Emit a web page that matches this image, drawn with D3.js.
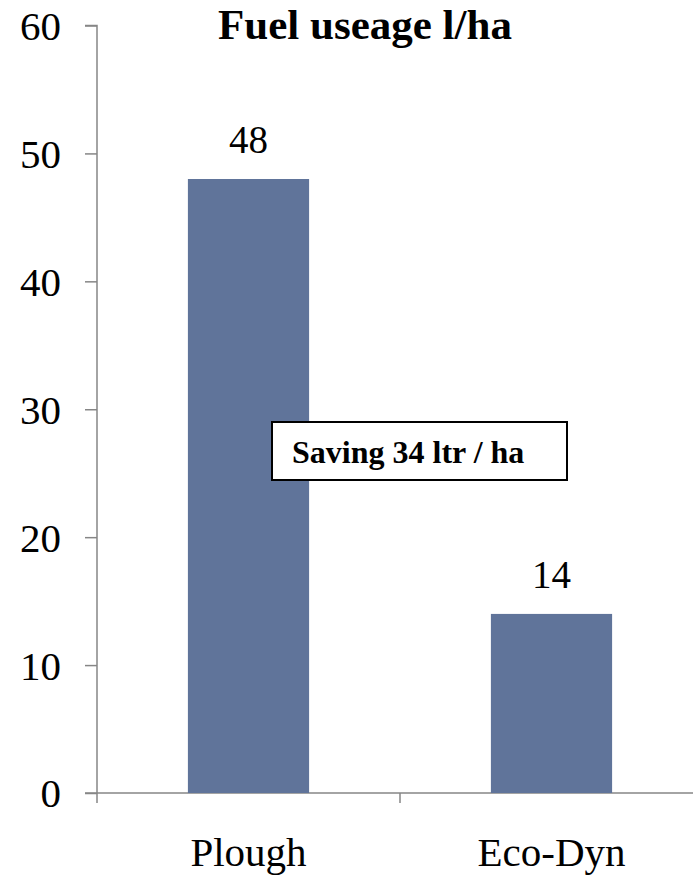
<!DOCTYPE html>
<html>
<head>
<meta charset="utf-8">
<script src="https://cdn.jsdelivr.net/npm/d3@7"></script>
<style>
  body { margin: 0; background: #fff; }
</style>
</head>
<body>
<script>
// data
const categories = ["Plough", "Eco-Dyn"]
const fuelValues = [48, 14]
const yTickValues = [0, 10, 20, 30, 40, 50, 60]
const titleText = "Fuel useage l/ha"
const noteText = "Saving 34 ltr / ha"

const W = 693, H = 875
const FONT = "'Liberation Serif', 'Times New Roman', serif"
const AXIS_COLOR = "#868686"
const BAR_COLOR = "#60749a"

const svg = d3.select("body").append("svg")
  .attr("width", W)
  .attr("height", H)

const y = d3.scaleLinear().domain([0, 60]).range([793, 25.5])
const x = d3.scaleBand().domain(categories).range([97, 703])
  .paddingInner(0.6).paddingOuter(0.3)

// y axis
const yAxis = svg.append("g")
  .attr("transform", "translate(97,0)")
  .call(d3.axisLeft(y).tickValues(yTickValues).tickSize(12).tickPadding(24).tickFormat(d3.format("d")))
yAxis.attr("font-family", null)
yAxis.select(".domain").attr("stroke", AXIS_COLOR).attr("stroke-width", 1.5)
  .attr("d", `M-12,${y(60)}H0V${y(0)}`)
yAxis.selectAll(".tick line").attr("stroke", AXIS_COLOR).attr("stroke-width", 1.5)
yAxis.selectAll(".tick text")
  .attr("fill", "#000")
  .style("font-size", "41px")
  .style("font-family", FONT)
  .attr("dy", "0.34em")

// x axis line + boundary ticks
const xg = svg.append("g")
xg.append("line")
  .attr("x1", 85).attr("x2", W)
  .attr("y1", y(0)).attr("y2", y(0))
  .attr("stroke", AXIS_COLOR).attr("stroke-width", 1.5)
const bounds = [x.range()[0]].concat(categories.map(c => x(c) + x.bandwidth() + x.step() * x.paddingInner() / 2))
xg.selectAll(".xtick").data(bounds).join("line")
  .attr("class", "xtick")
  .attr("x1", d => d).attr("x2", d => d)
  .attr("y1", y(0)).attr("y2", y(0) + 10)
  .attr("stroke", AXIS_COLOR).attr("stroke-width", 1.5)
xg.selectAll(".xlabel").data(categories).join("text")
  .attr("class", "xlabel")
  .attr("x", d => x(d) + x.bandwidth() / 2)
  .attr("y", 866)
  .attr("text-anchor", "middle")
  .style("font-family", FONT)
  .style("font-size", "41px")
  .text(d => d)

// bars
const rows = categories.map((c, i) => ({ cat: c, val: fuelValues[i] }))
svg.selectAll(".bar").data(rows).join("rect")
  .attr("class", "bar")
  .attr("x", d => x(d.cat))
  .attr("width", x.bandwidth())
  .attr("y", d => y(d.val))
  .attr("height", d => y(0) - y(d.val))
  .attr("fill", BAR_COLOR)

// value labels
svg.selectAll(".vlabel").data(rows).join("text")
  .attr("class", "vlabel")
  .attr("x", d => x(d.cat) + x.bandwidth() / 2)
  .attr("y", d => y(d.val) - 26)
  .attr("text-anchor", "middle")
  .style("font-family", FONT)
  .style("font-size", "39px")
  .text(d => d.val)

// title
svg.append("text")
  .attr("x", 365).attr("y", 39)
  .attr("text-anchor", "middle")
  .style("font-family", FONT)
  .style("font-size", "43px")
  .style("font-weight", "bold")
  .text(titleText)

// saving note box
svg.append("rect")
  .attr("x", 272).attr("y", 422)
  .attr("width", 295).attr("height", 58)
  .attr("fill", "#fff")
  .attr("stroke", "#000").attr("stroke-width", 2)
svg.append("text")
  .attr("x", 292).attr("y", 463)
  .style("font-family", FONT)
  .style("font-size", "32px")
  .style("font-weight", "bold")
  .text(noteText)
</script>
</body>
</html>
